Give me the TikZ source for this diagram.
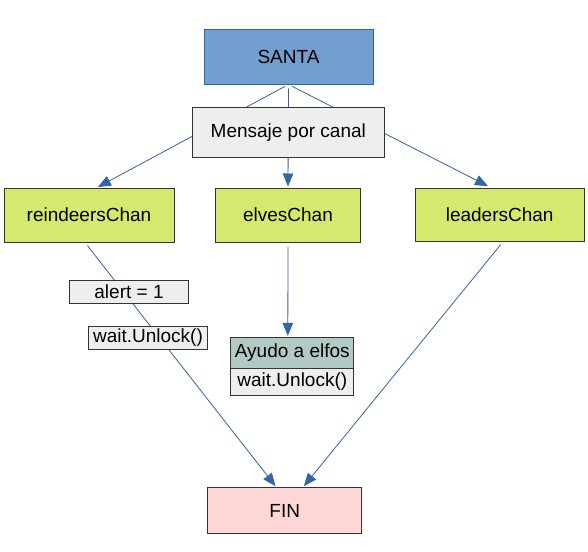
\documentclass[tikz,border=0pt]{standalone}
\usepackage{fontspec}
\setmainfont{Liberation Sans}
\usetikzlibrary{arrows.meta,calc}
\definecolor{santafill}{HTML}{729FCF}
\definecolor{santaline}{HTML}{3465A4}
\definecolor{chanfill}{RGB}{214,233,110}
\definecolor{grayfill}{HTML}{EEEEEE}
\definecolor{tealfill}{RGB}{178,201,198}
\definecolor{finfill}{HTML}{FFD7D7}
\definecolor{boxline}{HTML}{333333}
\begin{document}
\begin{tikzpicture}[x=1pt,y=-1pt,
  font=\fontsize{19}{22}\selectfont,
  box/.style={draw=boxline, line width=1pt, inner sep=0pt, anchor=center},
  conn/.style={draw=santaline, line width=0.8pt},
  arr/.style={conn, -{Triangle[length=13pt,width=10.5pt]}}]
\fill[white] (0,0) rectangle (588,551);
\path[use as bounding box] (0,0) rectangle (588,551);
% nodes
\node[box, draw=santaline, fill=santafill, minimum width=169pt, minimum height=54pt] (santa) at (288.5,57) {SANTA};
\node[box, fill=chanfill, minimum width=170pt, minimum height=54pt] (rein) at (89,215) {reindeersChan};
\node[box, fill=chanfill, minimum width=145pt, minimum height=54pt] (elves) at (288,215) {elvesChan};
\node[box, fill=chanfill, minimum width=169pt, minimum height=53pt] (leaders) at (499.7,214.5) {leadersChan};
\node[box, fill=finfill, minimum width=154pt, minimum height=46pt] (fin) at (284.7,510.5) {FIN};
\node[box, fill=tealfill, minimum width=123pt, minimum height=31pt] (ayudo) at (292.3,352.8) {Ayudo a elfos};
\node[box, fill=grayfill, minimum width=123pt, minimum height=27pt] (wait2) at (292.3,381.8) {wait.Unlock()};
% connectors from SANTA (behind the message box)
\draw[arr, shorten <=4pt, shorten >=1pt] (santa.south) -- ($(rein.north)+(8,0)$);
\draw[arr, shorten <=4pt, shorten >=1pt] (santa.south) -- (elves.north);
\draw[arr, shorten <=4pt, shorten >=3pt] (santa.south) -- ($(leaders.north)+(-9,0)$);
\node[box, fill=grayfill, minimum width=192pt, minimum height=50pt] (msg) at (288.3,132.2) {Mensaje por canal};
% lower connectors
\draw[arr, shorten <=4pt, shorten >=1pt] ($(rein.south)+(-4,0)$) -- ($(fin.north)+(-8.5,0)$);
\draw[arr, shorten <=4pt, shorten >=1pt] (elves.south) -- ($(ayudo.north)+(-4.5,0)$);
\draw[arr, shorten <=4pt, shorten >=1pt] ($(leaders.south)+(3.5,0)$) -- ($(fin.north)+(18.5,0)$);
% labels on the reindeer connector
\node[box, fill=grayfill, minimum width=119pt, minimum height=23pt] (alert) at (129,291.7) {alert = 1};
\node[box, fill=grayfill, minimum width=119pt, minimum height=23pt] (wait1) at (148,338) {wait.Unlock()};
\end{tikzpicture}
\end{document}
